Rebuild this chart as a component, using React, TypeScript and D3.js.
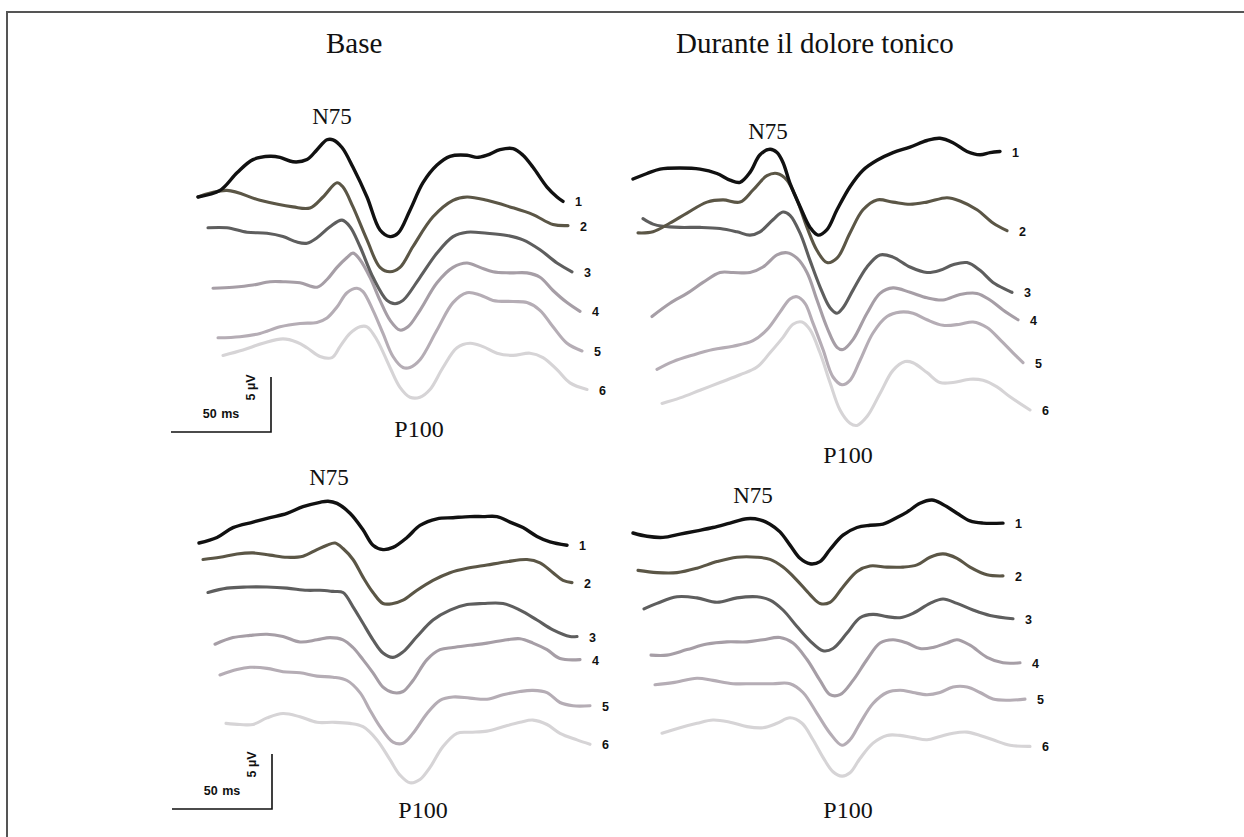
import { useRef, useEffect } from 'react';
import * as d3 from 'd3';

type Pt = [number, number]; // [ms, µV] (N75 drawn upward)

const W = 1244;
const H = 837;
const PX_PER_MS = 2; // 50 ms bar = 100 px
const PX_PER_UV = 11; // 5 µV bar = 55 px

const titles = ['Base', 'Durante il dolore tonico'];
const traceLabels = ['1', '2', '3', '4', '5', '6'];
const traceColors = ['#111111', '#5b5646', '#5e5e5e', '#a69ea6', '#b5adb5', '#d6d4d6'];
const peakLabels = ['N75', 'P100'];
const barLabels = ['50 ms', '5 µV'];
const barSize = [50, 5]; // ms, µV

// Base, first recording
const baseA: Pt[][] = [
  [[0,0],[11,0.6],[19.5,2.2],[27.5,3.4],[36,3.7],[41,3.6],[47.5,3.2],[54.5,3.4],[59.5,4.3],[64.5,5.2],[67.5,5.2],[72,4.5],[77.5,2.7],[84.5,0],[91,-3.0],[96,-3.6],[100,-3.3],[106,-1.2],[112.5,1.3],[119.5,2.9],[126,3.7],[134.5,3.8],[139.5,3.6],[144.5,3.8],[151,4.3],[157.5,4.4],[162.5,3.8],[167.5,2.7],[174.5,0.9],[179.5,0],[182.5,-0.4]],
  [[0,0],[14.5,0.6],[31,-0.3],[47.5,-0.9],[56,-1.0],[62.5,0],[69.5,1.3],[72.5,0.9],[77.5,-0.9],[84.5,-3.9],[91,-6.4],[96,-6.8],[101,-6.4],[107.5,-4.5],[117.5,-1.8],[127.5,-0.3],[134.5,0],[144.5,-0.3],[156,-0.9],[167.5,-1.6],[177.5,-2.5],[185,-2.6]],
  [[5,-2.8],[14.5,-2.8],[24.5,-3.2],[34.5,-3.3],[42.5,-3.6],[49.5,-4.1],[54.5,-4.2],[59.5,-3.7],[66,-2.7],[72,-2.1],[76,-2.7],[81,-4.5],[87.5,-7.3],[94.5,-9.4],[98.5,-9.7],[102.5,-9.4],[111,-7.3],[119.5,-5.1],[127.5,-3.6],[134.5,-3.2],[144.5,-3.3],[154.5,-3.5],[162.5,-3.9],[171,-4.8],[179.5,-6.0],[187,-6.8]],
  [[7.5,-8.3],[17.5,-8.2],[27.5,-8.0],[36,-7.7],[42.5,-7.7],[51,-7.8],[59.5,-8.2],[64.5,-7.5],[69.5,-6.4],[74.5,-5.5],[77.5,-5.1],[81,-5.7],[86,-7.3],[91,-9.4],[96,-11.2],[101,-12.1],[105,-11.8],[111,-10.3],[119.5,-7.8],[127.5,-6.4],[134.5,-6.0],[141,-6.4],[147.5,-6.8],[156,-6.9],[164.5,-6.9],[171,-7.3],[177.5,-8.5],[184.5,-9.6],[191,-10.4]],
  [[10,-12.8],[21,-12.7],[31,-12.4],[41,-11.8],[51,-11.5],[59.5,-11.4],[64.5,-11.0],[69.5,-10.0],[74.5,-8.7],[79.5,-8.3],[82.5,-8.6],[87.5,-10.3],[92.5,-12.4],[97.5,-14.5],[102.5,-15.5],[106,-15.5],[111,-14.8],[119.5,-12.1],[127.5,-9.6],[134.5,-8.7],[141,-8.9],[147.5,-9.4],[157.5,-9.5],[164.5,-9.6],[171,-10.3],[177.5,-11.8],[184.5,-13.3],[192,-14.0]],
  [[12.5,-14.4],[22.5,-13.9],[32.5,-13.3],[42.5,-12.9],[49.5,-13.2],[54.5,-13.7],[61,-14.5],[67,-14.6],[71,-13.6],[76,-12.4],[81,-11.8],[84.5,-11.8],[89.5,-13.0],[96,-15.5],[101,-17.3],[106,-18.2],[111,-18.2],[116,-17.5],[122.5,-15.5],[129.5,-13.7],[136,-13.3],[142.5,-13.6],[149.5,-14.2],[157.5,-14.4],[166,-14.2],[172.5,-14.6],[179.5,-15.7],[186,-16.9],[194.5,-17.5]],
];

// During tonic pain, first recording
const painA: Pt[][] = [
  [[0,0],[7,0.5],[13.5,0.9],[23.5,1.0],[33.5,0.9],[42,0.5],[48.5,-0.1],[53.5,-0.3],[58.5,0.6],[63.5,2.2],[68.5,2.7],[72,2.4],[75,1.5],[78.5,-0.4],[83.5,-2.5],[88.5,-4.4],[92.5,-5.1],[97,-4.6],[102,-2.8],[108.5,-0.7],[115,0.8],[122,1.7],[130,2.4],[138.5,2.9],[147,3.5],[153.5,3.7],[160,3.3],[167,2.5],[173.5,2.2],[178.5,2.4],[183.5,2.5]],
  [[2.5,-4.9],[10,-4.8],[18.5,-4.0],[27,-3.1],[37,-2.1],[45,-1.9],[53.5,-2.1],[60,-1.0],[67,0.3],[72,0.5],[77,-0.1],[82,-1.9],[87,-4.4],[92,-6.5],[97,-7.6],[102,-7.2],[108.5,-4.9],[115,-2.8],[122,-1.9],[130,-2.1],[138.5,-2.3],[147,-2.1],[157,-1.7],[163.5,-2.0],[172,-2.8],[180,-4.0],[187,-4.7]],
  [[5,-3.6],[10,-4.1],[15,-4.3],[23.5,-4.4],[33.5,-4.4],[43.5,-4.5],[52,-4.8],[58.5,-5.1],[63.5,-4.8],[70,-3.7],[75,-3.0],[78.5,-3.3],[83.5,-4.9],[88.5,-7.4],[93.5,-9.8],[98.5,-11.7],[102,-12.2],[105,-11.7],[110,-10.1],[117,-8.0],[123.5,-6.9],[130,-7.1],[138.5,-8.0],[147,-8.5],[153.5,-8.3],[160,-7.8],[167,-7.6],[173.5,-8.3],[180,-9.4],[189.5,-10.3]],
  [[9.5,-12.5],[18.5,-11.3],[27,-10.4],[35,-9.4],[43.5,-8.5],[50,-8.5],[58.5,-8.5],[65,-8.0],[72,-6.9],[77,-6.7],[82,-7.2],[87,-8.5],[92,-11.0],[97,-13.5],[102,-15.3],[105,-15.5],[110,-14.6],[117,-12.2],[123.5,-10.4],[130,-9.9],[138.5,-10.3],[147,-10.8],[155,-11.0],[163.5,-10.5],[172,-10.4],[178.5,-11.0],[185,-11.9],[192.5,-12.8]],
  [[12,-17.3],[20,-16.6],[30,-16.0],[40,-15.5],[50,-15.2],[60,-14.7],[67,-13.7],[73.5,-12.1],[78.5,-10.9],[82,-10.7],[86,-11.3],[90,-13.1],[95,-15.5],[100,-18.0],[104.5,-18.7],[108.5,-18.3],[113.5,-16.5],[120,-14.0],[127,-12.5],[133.5,-12.1],[140,-12.2],[147,-12.8],[155,-13.3],[163.5,-13.2],[170,-13.0],[177,-13.5],[183.5,-14.6],[190,-15.8],[195,-16.7]],
  [[14.5,-20.4],[23.5,-19.9],[33.5,-19.2],[43.5,-18.5],[53.5,-17.8],[62,-17.1],[68.5,-15.8],[75,-14.4],[80,-13.2],[84.5,-13.0],[88.5,-13.7],[93.5,-15.8],[98.5,-18.5],[103.5,-21.0],[108.5,-22.2],[112,-22.4],[117,-21.6],[123.5,-19.5],[130,-17.4],[136,-16.6],[140,-16.7],[147,-17.6],[153.5,-18.5],[160,-18.5],[168.5,-18.2],[175,-18.3],[182,-18.9],[188.5,-19.8],[198.5,-21.0]],
];

// Base, second recording
const baseB: Pt[][] = [
  [[0,0],[9,0.5],[17,1.4],[27,1.9],[35.5,2.3],[44,2.7],[52,3.3],[60.5,3.7],[64.5,3.8],[69,3.6],[75.5,2.7],[82,1.2],[87,-0.2],[92,-0.6],[97,-0.4],[104,0.5],[110.5,1.6],[119,2.2],[127,2.3],[135.5,2.4],[142,2.4],[149,2.4],[155.5,1.9],[162,1.4],[169,0.6],[175.5,0.1],[184,-0.2]],
  [[2,-1.5],[10.5,-1.3],[19,-1.0],[27,-0.9],[35.5,-1.1],[44,-1.3],[52,-1.2],[59,-0.6],[64,-0.2],[68,0],[72,-0.5],[77,-1.5],[82,-3.1],[87,-4.5],[92,-5.5],[97,-5.5],[102,-5.2],[109,-4.3],[117,-3.4],[125.5,-2.7],[134,-2.3],[144,-2.0],[154,-1.7],[164,-1.5],[170.5,-1.8],[177,-2.7],[182,-3.4],[186.5,-3.6]],
  [[4.5,-4.5],[14,-4.1],[24,-4.0],[34,-4.0],[44,-4.1],[54,-4.3],[60.5,-4.3],[67,-4.4],[72,-4.5],[77,-5.8],[82,-7.3],[87,-8.8],[92,-10.0],[97,-10.4],[102,-9.9],[109,-8.5],[117,-7.0],[125.5,-6.1],[134,-5.6],[142,-5.5],[152,-5.5],[160.5,-6.1],[169,-7.0],[177,-7.9],[185.5,-8.5],[189,-8.5]],
  [[8,-9.2],[17,-8.6],[25.5,-8.4],[34,-8.3],[42,-8.5],[50.5,-9.0],[59,-8.8],[65.5,-8.6],[72,-8.8],[77,-9.5],[82,-10.6],[87,-11.8],[92,-13.1],[97,-13.6],[102,-13.5],[107,-12.5],[114,-10.6],[120.5,-9.7],[127,-9.5],[135.5,-9.3],[144,-9.1],[154,-8.8],[160.5,-8.7],[167,-9.1],[174,-9.7],[180.5,-10.5],[190.5,-10.6]],
  [[10.5,-12.0],[19,-11.5],[25.5,-11.3],[34,-11.4],[42,-11.7],[50.5,-11.8],[59,-12.1],[67,-12.2],[74,-12.5],[80.5,-13.6],[85.5,-15.2],[90.5,-16.7],[97,-18.1],[102,-18.2],[107,-17.3],[114,-15.5],[120.5,-14.3],[127,-14.0],[135.5,-14.1],[144,-14.2],[152,-13.8],[160.5,-13.5],[167,-13.4],[174,-13.6],[180.5,-14.5],[187,-14.8],[195.5,-14.8]],
  [[13.5,-16.4],[20.5,-16.5],[27,-16.5],[34,-15.9],[42,-15.5],[50.5,-15.8],[59,-16.3],[67,-16.3],[75.5,-16.4],[82,-16.7],[89,-17.9],[95.5,-19.7],[100.5,-21.1],[105.5,-21.8],[110.5,-21.5],[115.5,-20.4],[122,-18.5],[129,-17.3],[135.5,-17.2],[144,-17.1],[152,-16.7],[160.5,-16.3],[167,-16.1],[174,-16.5],[180.5,-17.3],[189,-17.9],[195.5,-18.3]],
];

// During tonic pain, second recording
const painB: Pt[][] = [
  [[0,0],[7,-0.3],[15,-0.4],[23.5,-0.1],[32,0.2],[40,0.5],[48.5,0.9],[57,1.3],[63.5,1.2],[68.5,0.8],[73.5,0.1],[78.5,-1.1],[83.5,-2.3],[88.5,-2.8],[93.5,-2.6],[98.5,-1.5],[105,-0.2],[112,0.5],[118.5,0.7],[125,0.8],[132,1.4],[137,1.9],[143.5,2.7],[149.5,3.0],[155,2.6],[162,1.8],[168.5,1.1],[175,0.9],[185,0.9]],
  [[2.5,-3.4],[12,-3.6],[22,-3.6],[32,-3.2],[42,-2.6],[52,-2.2],[62,-2.2],[68.5,-2.4],[75,-3.1],[82,-4.3],[88.5,-5.6],[93.5,-6.4],[98.5,-6.3],[105,-4.9],[112,-3.5],[118.5,-3.0],[127,-3.1],[135,-3.1],[142,-2.9],[148.5,-2.2],[155,-1.9],[162,-2.3],[168.5,-3.1],[177,-3.8],[185,-3.9]],
  [[5.5,-6.9],[12,-6.4],[22,-5.8],[32,-5.9],[42,-6.3],[52,-5.9],[62,-5.8],[68.5,-6.1],[75,-7.0],[82,-8.5],[88.5,-9.8],[95,-10.7],[100,-10.5],[107,-9.1],[113.5,-7.7],[120,-7.4],[127,-7.6],[133.5,-7.7],[140,-7.3],[148.5,-6.4],[155,-6.0],[162,-6.4],[170,-7.0],[178.5,-7.5],[190,-7.8]],
  [[9,-11.1],[17,-11.1],[27,-10.6],[37,-10.1],[47,-9.9],[57,-9.9],[65,-9.7],[73.5,-9.5],[80,-10.0],[87,-11.5],[93.5,-13.4],[98.5,-14.7],[103.5,-14.7],[110,-13.4],[117,-11.5],[123.5,-10.0],[130,-9.7],[137,-10.0],[143.5,-10.5],[150,-10.4],[157,-10.0],[162,-9.7],[168.5,-10.2],[177,-11.3],[185,-11.8],[193.5,-11.8]],
  [[11,-13.8],[20,-13.6],[32,-13.2],[40,-13.4],[50,-13.7],[60,-13.7],[70,-13.7],[78.5,-13.7],[85,-14.5],[92,-16.4],[98.5,-18.2],[104.5,-19.3],[108.5,-18.8],[113.5,-17.3],[120,-15.5],[127,-14.5],[133.5,-14.3],[140,-14.5],[147,-14.7],[153.5,-14.5],[160,-14.0],[167,-14.0],[173.5,-14.5],[180,-15.1],[188.5,-15.2],[196,-15.1]],
  [[14.5,-18.2],[23.5,-17.7],[32,-17.3],[40,-17.0],[48.5,-17.2],[57,-17.6],[65,-17.7],[72,-17.3],[78.5,-16.8],[84.5,-17.3],[90,-18.8],[95,-20.4],[100,-21.7],[104.5,-22.1],[108.5,-21.8],[113.5,-20.5],[120,-19.1],[127,-18.4],[133.5,-18.4],[140,-18.6],[147,-18.8],[153.5,-18.5],[160,-18.2],[167,-18.1],[173.5,-18.4],[180,-18.8],[188.5,-19.3],[198.5,-19.4]],
];

const panels = [
  { traces: baseA, x0: 198, y0: 197, n75: [332, 124], p100: [419, 437], bar: [271, 432] },
  { traces: painA, x0: 633, y0: 179, n75: [768, 139], p100: [848, 463], bar: null },
  { traces: baseB, x0: 199, y0: 543, n75: [329, 485], p100: [423, 818], bar: [272, 809] },
  { traces: painB, x0: 633, y0: 533, n75: [753, 503], p100: [848, 818], bar: null },
];

const SERIF = '"Liberation Serif", "Times New Roman", Times, serif';
const SANS = '"Liberation Sans", Arial, Helvetica, sans-serif';

const App = () => {
  const svgRef = useRef<SVGSVGElement>(null);

  useEffect(() => {
    const svg = d3.select(svgRef.current);
    svg.selectAll('*').remove();

    svg.append('rect').attr('width', W).attr('height', H).attr('fill', '#fff');

    // frame (runs off the right and bottom edges)
    svg.append('rect')
      .attr('x', 7).attr('y', 12)
      .attr('width', W + 20).attr('height', H + 20)
      .attr('fill', 'none').attr('stroke', '#555').attr('stroke-width', 2);

    svg.append('text').text(titles[0])
      .attr('x', 326).attr('y', 53)
      .attr('font-family', SERIF).attr('font-size', 29).attr('fill', '#111');
    svg.append('text').text(titles[1])
      .attr('x', 676).attr('y', 53)
      .attr('font-family', SERIF).attr('font-size', 29).attr('fill', '#111');

    panels.forEach(p => {
      const x = d3.scaleLinear().domain([0, 200]).range([p.x0, p.x0 + 200 * PX_PER_MS]);
      const y = d3.scaleLinear().domain([0, -25]).range([p.y0, p.y0 + 25 * PX_PER_UV]);
      const line = d3.line<Pt>()
        .x(d => x(d[0]))
        .y(d => y(d[1]))
        .curve(d3.curveCatmullRom.alpha(0.5));

      const g = svg.append('g');

      // lighter traces first so the darker ones sit on top
      const order = d3.range(p.traces.length).reverse();
      order.forEach(i => {
        g.append('path')
          .attr('d', line(p.traces[i]))
          .attr('fill', 'none')
          .attr('stroke', traceColors[i])
          .attr('stroke-width', i === 0 ? 3.4 : 3.1)
          .attr('stroke-linejoin', 'round')
          .attr('stroke-linecap', 'round');
      });

      p.traces.forEach((tr, i) => {
        const last = tr[tr.length - 1];
        g.append('text').text(traceLabels[i])
          .attr('x', x(last[0]) + 12)
          .attr('y', y(last[1]) + 1)
          .attr('dominant-baseline', 'central')
          .attr('font-family', SANS).attr('font-size', 12.5).attr('font-weight', 'bold')
          .attr('fill', '#111');
      });

      g.append('text').text(peakLabels[0])
        .attr('x', p.n75[0]).attr('y', p.n75[1])
        .attr('text-anchor', 'middle')
        .attr('font-family', SERIF).attr('font-size', 23).attr('fill', '#111');
      g.append('text').text(peakLabels[1])
        .attr('x', p.p100[0]).attr('y', p.p100[1])
        .attr('text-anchor', 'middle')
        .attr('font-family', SERIF).attr('font-size', 24).attr('fill', '#111');

      if (p.bar) {
        const [bx, by] = p.bar;
        const bw = x(barSize[0]) - x(0);
        const bh = y(0) - y(barSize[1]);
        g.append('path')
          .attr('d', `M${bx - bw},${by}H${bx}V${by - bh}`)
          .attr('fill', 'none').attr('stroke', '#111').attr('stroke-width', 1.6);
        g.append('text').text(barLabels[0])
          .attr('x', bx - bw / 2).attr('y', by - 14)
          .attr('text-anchor', 'middle')
          .attr('font-family', SANS).attr('font-size', 12.5).attr('font-weight', 'bold')
          .attr('word-spacing', 1)
          .attr('fill', '#111');
        g.append('text').text(barLabels[1])
          .attr('transform', `translate(${bx - 20},${by - bh / 2 - 17}) rotate(-90)`)
          .attr('text-anchor', 'middle')
          .attr('dominant-baseline', 'central')
          .attr('font-family', SANS).attr('font-size', 12.5).attr('font-weight', 'bold')
          .attr('fill', '#111');
      }
    });
  }, []);

  return (
    <svg
      ref={svgRef}
      width={W}
      height={H}
      style={{ position: 'absolute', left: 0, top: 0, display: 'block' }}
    />
  );
};

export default App;
